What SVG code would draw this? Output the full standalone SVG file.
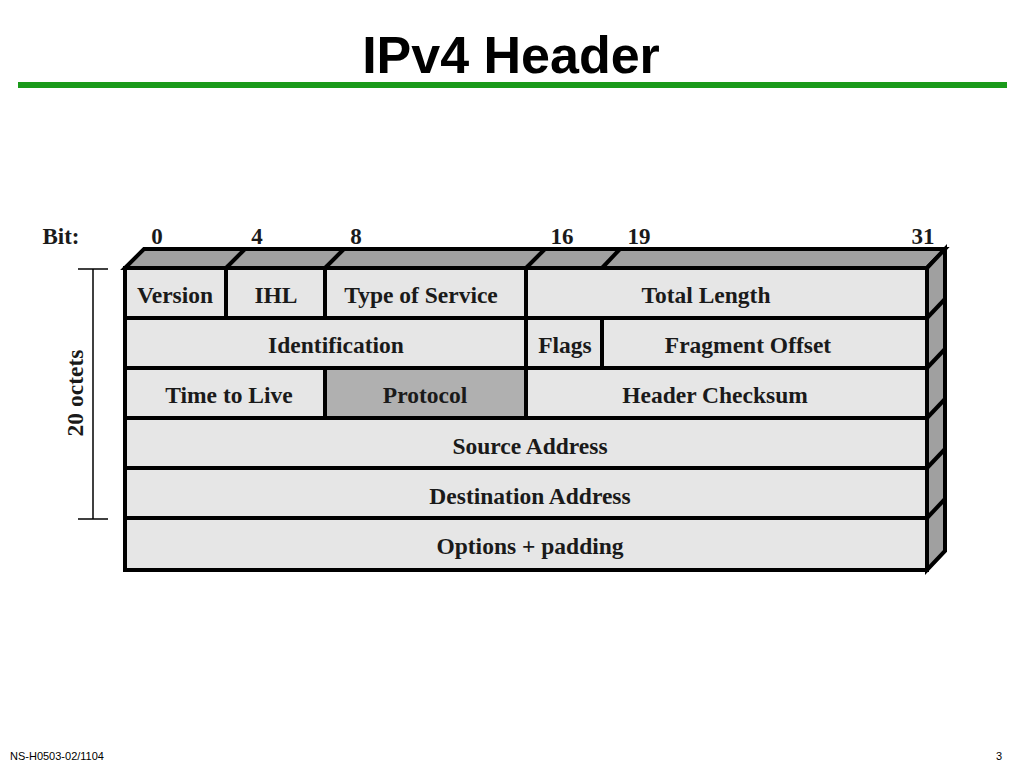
<svg xmlns="http://www.w3.org/2000/svg" width="1024" height="768" viewBox="0 0 1024 768">
<style>
.cell{fill:#e6e6e6;stroke:#000;stroke-width:4}
.face{fill:#a0a0a0;stroke:#000;stroke-width:4;stroke-linejoin:miter}
.lbl{font-family:"Liberation Serif","Times New Roman",serif;font-weight:bold;font-size:23.5px;fill:#1a1a1a;text-anchor:middle}
.bit{font-family:"Liberation Serif","Times New Roman",serif;font-weight:bold;font-size:23px;fill:#1a1a1a;text-anchor:middle}
.ln{stroke:#000;stroke-width:4;fill:none}
</style>
<rect width="1024" height="768" fill="#fff"/>
<text x="511" y="73" font-family="Liberation Sans,Arial,sans-serif" font-weight="bold" font-size="52" text-anchor="middle" fill="#000">IPv4 Header</text>
<rect x="18" y="82" width="989" height="6" fill="#1a9a1a"/>
<g id="bits">
<text x="61" y="244" class="bit">Bit:</text>
<text x="157" y="244" class="bit">0</text>
<text x="257" y="244" class="bit">4</text>
<text x="356" y="244" class="bit">8</text>
<text x="562" y="244" class="bit">16</text>
<text x="639" y="244" class="bit">19</text>
<text x="923" y="244" class="bit">31</text>
</g>
<g id="octets">
<line x1="78" y1="269" x2="108" y2="269" stroke="#000" stroke-width="1.5"/>
<line x1="78" y1="519" x2="108" y2="519" stroke="#000" stroke-width="1.5"/>
<line x1="93" y1="269" x2="93" y2="519" stroke="#000" stroke-width="1.5"/>
<text transform="translate(83,393) rotate(-90)" class="lbl">20 octets</text>
</g>
<g id="faces">
<polygon class="face" points="125,268 144,249 945,249 927,268"/>
<polygon class="face" points="927,268 945,249 945,551 927,570"/>
</g>
<g id="version"><rect class="cell" x="125" y="268" width="101" height="50"/><text x="175" y="303" class="lbl">Version</text></g>
<g id="ihl"><rect class="cell" x="226" y="268" width="99" height="50"/><text x="276" y="303" class="lbl">IHL</text></g>
<g id="tos"><rect class="cell" x="325" y="268" width="201" height="50"/><text x="421" y="303" class="lbl">Type of Service</text></g>
<g id="totallen"><rect class="cell" x="526" y="268" width="401" height="50"/><text x="706" y="303" class="lbl">Total Length</text></g>
<g id="ident"><rect class="cell" x="125" y="318" width="401" height="50"/><text x="336" y="353" class="lbl">Identification</text></g>
<g id="flags"><rect class="cell" x="526" y="318" width="76" height="50"/><text x="565" y="353" class="lbl">Flags</text></g>
<g id="fragoff"><rect class="cell" x="602" y="318" width="325" height="50"/><text x="748" y="353" class="lbl">Fragment Offset</text></g>
<g id="ttl"><rect class="cell" x="125" y="368" width="200" height="50"/><text x="229" y="403" class="lbl">Time to Live</text></g>
<g id="protocol"><rect class="cell" style="fill:#b0b0b0" x="325" y="368" width="201" height="50"/><text x="425" y="403" class="lbl">Protocol</text></g>
<g id="checksum"><rect class="cell" x="526" y="368" width="401" height="50"/><text x="715" y="403" class="lbl">Header Checksum</text></g>
<g id="src"><rect class="cell" x="125" y="418" width="802" height="50"/><text x="530" y="454" class="lbl">Source Address</text></g>
<g id="dst"><rect class="cell" x="125" y="468" width="802" height="50"/><text x="530" y="504" class="lbl">Destination Address</text></g>
<g id="options"><rect class="cell" x="125" y="518" width="802" height="52"/><text x="530" y="554" class="lbl">Options + padding</text></g>
<g id="connectors">
<line class="ln" x1="226" y1="268" x2="245" y2="249"/>
<line class="ln" x1="325" y1="268" x2="344" y2="249"/>
<line class="ln" x1="526" y1="268" x2="545" y2="249"/>
<line class="ln" x1="602" y1="268" x2="620" y2="249"/>
<line class="ln" x1="927" y1="318" x2="945" y2="299"/>
<line class="ln" x1="927" y1="368" x2="945" y2="349"/>
<line class="ln" x1="927" y1="418" x2="945" y2="399"/>
<line class="ln" x1="927" y1="468" x2="945" y2="449"/>
<line class="ln" x1="927" y1="518" x2="945" y2="499"/>
</g>
<text x="10" y="760" font-family="Liberation Sans,Arial,sans-serif" font-size="11" fill="#000">NS-H0503-02/1104</text>
<text x="1002" y="760" font-family="Liberation Sans,Arial,sans-serif" font-size="11" text-anchor="end" fill="#000">3</text>
</svg>
